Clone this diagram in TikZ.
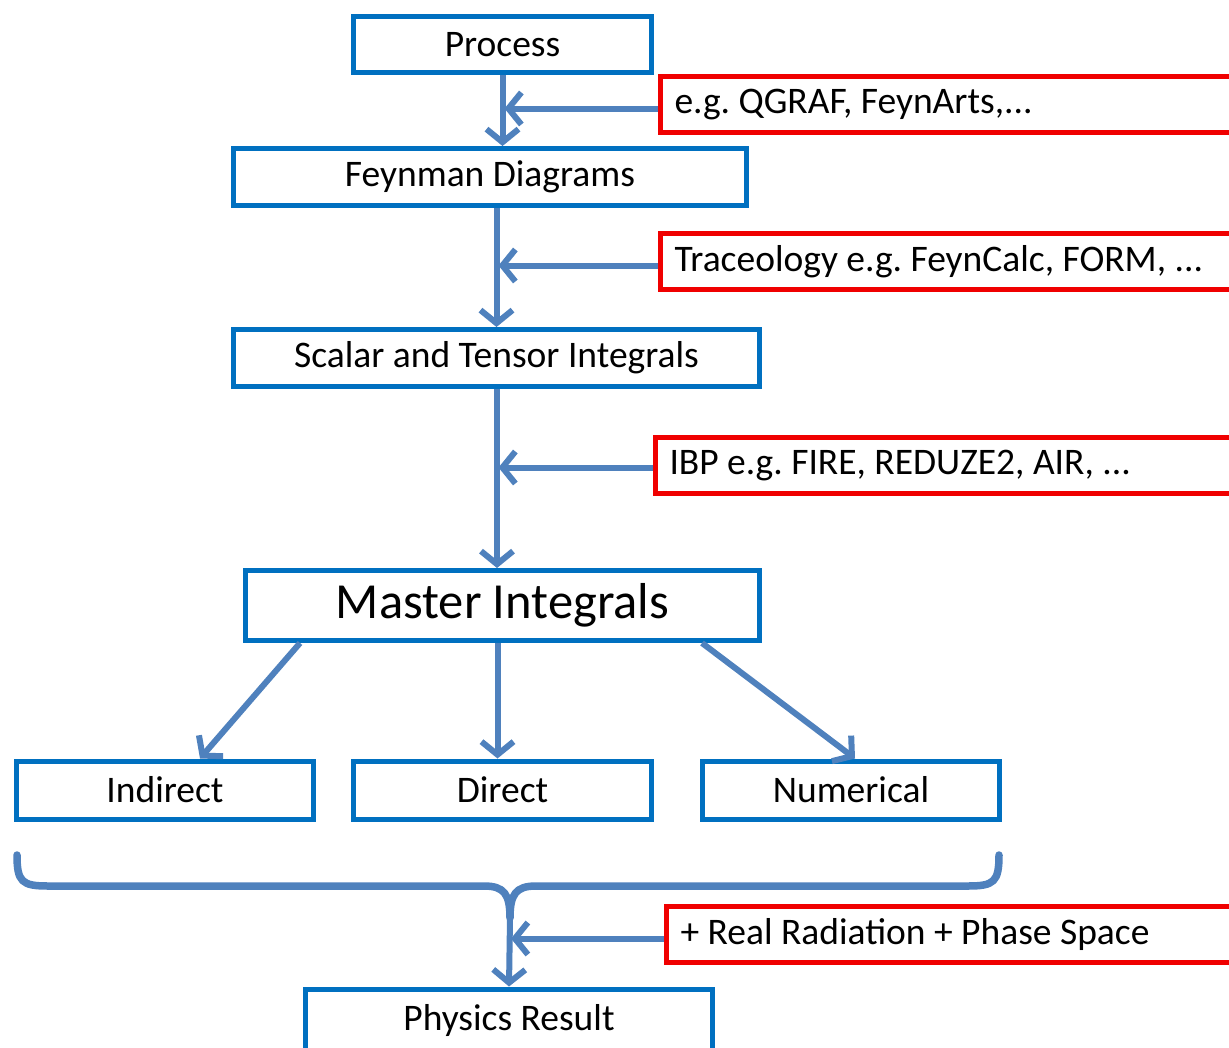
\documentclass[tikz,border=0pt]{standalone}
\usepackage{fontspec}
\setmainfont{Carlito}
\usetikzlibrary{arrows.meta}
\definecolor{arrowblue}{HTML}{4F81BD}
\definecolor{boxblue}{HTML}{0070C0}
\definecolor{toolred}{HTML}{F00000}
\begin{document}
\begin{tikzpicture}[x=1pt,y=-1pt,
  bluebox/.style={draw=boxblue, line width=5pt, fill=white, inner sep=0pt,
    font=\fontsize{37.5}{44}\selectfont\frenchspacing},
  redbox/.style={draw=toolred, line width=5pt, fill=white, anchor=west,
    minimum height=56pt, inner xsep=14pt, inner ysep=0pt, text width=560pt,
    align=flush left, font=\fontsize{37.5}{44}\selectfont\frenchspacing},
  flow/.style={draw=arrowblue, line width=6pt,
    -{Straight Barb[length=13pt,width=32pt]}},
]
\clip (0,0) rectangle (1229,1047);
\fill[white] (0,0) rectangle (1229,1047);

% main boxes
\node[bluebox, minimum width=298pt, minimum height=56pt] (process) at (502.5,44.5) {Process};
\node[bluebox, minimum width=513pt, minimum height=57pt] (fd) at (490,177) {Feynman Diagrams};
\node[bluebox, minimum width=526pt, minimum height=57pt] (sti) at (496.5,358) {Scalar and Tensor Integrals};
\node[bluebox, minimum width=514pt, minimum height=70pt, font=\fontsize{50.5}{60}\selectfont] (mi) at (502.5,605.5) {Master Integrals};
\node[bluebox, minimum width=297pt, minimum height=58pt] (ind) at (165,790) {Indirect};
\node[bluebox, minimum width=298pt, minimum height=58pt] (dir) at (502.5,790) {Direct};
\node[bluebox, minimum width=297pt, minimum height=58pt] (num) at (851,790) {Numerical};
\node[bluebox, minimum width=407pt, minimum height=62pt] (phys) at (509,1020) {Physics Result};

% tool boxes
\node[redbox] (r1) at (658,104.5) {e.g. QGRAF, FeynArts,...};
\node[redbox] (r2) at (658,261.5) {Traceology e.g. FeynCalc, FORM, ...};
\node[redbox] (r3) at (653,465.5) {IBP e.g. FIRE, REDUZE2, AIR, ...};
\node[redbox] (r4) at (664,934.5) {+ Real Radiation + Phase Space};

% vertical flow
\draw[flow] (process.south) -- (process.south |- fd.north);
\draw[flow] (fd.south -| sti.north) -- (sti.north);
\draw[flow] ([xshift=0.5pt]sti.south) -- ([xshift=0.5pt]sti.south |- mi.north);

% horizontal inputs
\draw[flow] ([yshift=-4pt]r1.west) -- ([yshift=-4pt,xshift=2pt]r1.west -| process.south);
\draw[flow] ([yshift=-4pt]r2.west) -- ([yshift=-4pt,xshift=2pt]r2.west -| sti.north);
\draw[flow] ([yshift=-2pt]r3.west) -- ([yshift=-2pt,xshift=2pt]r3.west -| sti.north);

% branches from master integrals
\draw[flow] ([xshift=57pt]mi.south west) -- ([xshift=35pt]ind.north);
\draw[flow] ([xshift=-5pt]mi.south) -- ([xshift=-5pt]dir.north);
\draw[flow] ([xshift=-60pt]mi.south east) -- ([xshift=4pt]num.north);

% brace
\coordinate (bt) at (510,918);
\draw[arrowblue, line width=7.5pt, line cap=round, line join=round]
  (17,855) .. controls (17,882) and (22,886) .. (48,886)
  -- (484,886) .. controls (504,886) and (510,894) .. (bt)
  .. controls (510,894) and (516,886) .. (536,886)
  -- (968,886) .. controls (994,886) and (999,882) .. (999,855);
\draw[flow] (bt) -- (phys.north);
\draw[flow] ([yshift=-4pt]r4.west) -- ([yshift=-4pt,xshift=2pt]r4.west -| phys.north);
\end{tikzpicture}
\end{document}
